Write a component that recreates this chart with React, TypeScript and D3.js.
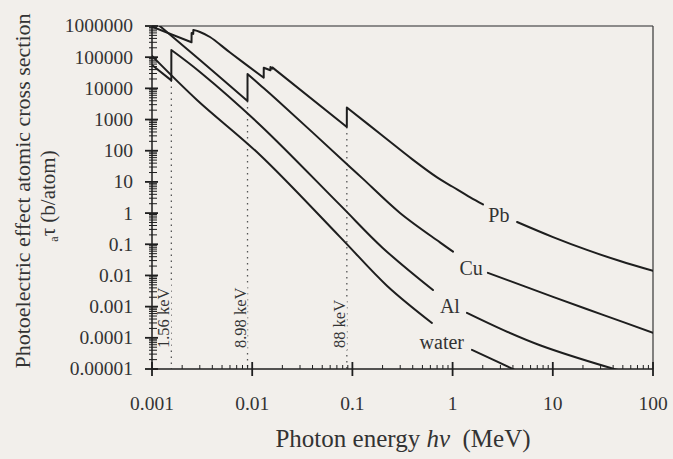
import React from "react";
import * as d3 from "d3";

// ---------- data ----------
const seriesNames = ["Pb", "Cu", "Al", "water"];

const pbEnergy = [0.001, 0.00248, 0.002485, 0.00258, 0.002586, 0.00301, 0.00379, 0.00601, 0.01303, 0.01304, 0.0152, 0.01521, 0.01586, 0.01587, 0.088, 0.08801, 0.2, 0.4, 0.7, 1.0, 1.5, 2.01, 4.39, 10.05, 21.9, 46.9, 100];
const pbSigma = [950000, 300000, 600000, 560000, 750000, 643000, 444000, 141000, 22000, 46000, 38000, 48000, 43000, 47000, 580, 2450, 302, 52, 14, 7.0, 3.2, 1.9, 0.52, 0.17, 0.066, 0.029, 0.014];

const cuEnergy = [0.001, 0.00123, 0.00301, 0.00898, 0.008981, 0.01197, 0.0177, 0.0946, 0.1276, 0.2986, 0.748, 1.01, 2.25, 10.05, 31.7, 100];
const cuSigma = [1.6e6, 930000, 81000, 3950, 28800, 12900, 4250, 30.3, 12.5, 1.01, 0.115, 0.058, 0.0121, 0.00206, 5.46e-4, 1.45e-4];

const alEnergy = [0.001, 0.001559, 0.00156, 0.00301, 0.01197, 0.0751, 0.202, 0.637, 1.39, 3.18, 7.45, 37.2, 50];
const alSigma = [56000, 18000, 170000, 33600, 671, 1.83, 0.075, 0.0034, 6.3e-4, 1.8e-4, 5.8e-5, 1.1e-5, 8.5e-6];

const waterEnergy = [0.001, 0.00281, 0.01197, 0.0751, 0.221, 0.622, 1.56, 3.74, 5.0];
const waterSigma = [110000, 4250, 73, 0.173, 0.0047, 3.0e-4, 4.1e-5, 1.1e-5, 7e-6];

// label anchors and gaps in each curve (energy, MeV / cross section, b)
const labelEnergy = [2.9, 1.53, 0.94, 0.78];
const labelSigma = [0.876, 0.0175, 0.00106, 7.4e-5];
const gapStart = [2.01, 1.01, 0.637, 0.622];
const gapEnd = [4.4, 2.25, 1.39, 1.56];

// absorption edges
const edgeEnergy = [0.00156, 0.00898, 0.088];
const edgeBottom = [18000, 3950, 580];
const edgeLabels = ["1.56 keV", "8.98 keV", "88 keV"];

const xTickValues = [0.001, 0.01, 0.1, 1, 10, 100];
const xTickLabels = ["0.001", "0.01", "0.1", "1", "10", "100"];
const yTickValues = [1e-5, 1e-4, 1e-3, 1e-2, 1e-1, 1, 10, 100, 1000, 1e4, 1e5, 1e6];
const yTickLabels = ["0.00001", "0.0001", "0.001", "0.01", "0.1", "1", "10", "100", "1000", "10000", "100000", "1000000"];

// ---------- layout ----------
const W = 673;
const H = 459;
const L = 152, R = 653, T = 26, B = 369;
const BG = "#f2efeb";
const INK = "#1e1e1e";
const TXT = "#333";
const FONT = "'Liberation Serif', 'Times New Roman', Times, serif";

type P = [number, number];

function splitAtGap(points: P[], g0: number, g1: number): P[][] {
  const interp = (a: P, b: P, e: number): P => {
    const t = (Math.log(e) - Math.log(a[0])) / (Math.log(b[0]) - Math.log(a[0]));
    return [e, Math.exp(Math.log(a[1]) + t * (Math.log(b[1]) - Math.log(a[1])))];
  };
  const before: P[] = [];
  const after: P[] = [];
  for (let i = 0; i < points.length; i++) {
    const p = points[i];
    if (i > 0) {
      const q = points[i - 1];
      if (q[0] < g0 && p[0] > g0) before.push(interp(q, p, g0));
      if (q[0] < g1 && p[0] > g1) after.push(interp(q, p, g1));
    }
    if (p[0] <= g0) before.push(p);
    if (p[0] >= g1) after.push(p);
  }
  return [before, after];
}

// split a curve into smooth pieces at absorption-edge jumps
function splitAtJumps(points: P[]): P[][] {
  const pieces: P[][] = [];
  let cur: P[] = [];
  points.forEach((p, i) => {
    if (i > 0 && p[0] / points[i - 1][0] < 1.01) {
      pieces.push(cur);
      cur = [];
    }
    cur.push(p);
  });
  pieces.push(cur);
  return pieces;
}

export default function App() {
  const x = d3.scaleLog().domain([0.001, 100]).range([L, R]);
  const y = d3.scaleLog().domain([1e-5, 1e6]).range([B, T]);

  const energies = [pbEnergy, cuEnergy, alEnergy, waterEnergy];
  const sigmas = [pbSigma, cuSigma, alSigma, waterSigma];

  const smooth = d3
    .line<P>()
    .x((d) => x(d[0]))
    .y((d) => y(d[1]))
    .curve(d3.curveCatmullRom.alpha(0.5));

  const pathFor = (part: P[]) => {
    const pieces = splitAtJumps(part).filter((pc) => pc.length > 0);
    return pieces
      .map((pc, k) => {
        const d = pc.length === 1 ? `M${x(pc[0][0])},${y(pc[0][1])}` : smooth(pc) || "";
        return k === 0 ? d : "L" + d.slice(1);
      })
      .join("");
  };

  const xMinor: number[] = [];
  const yMinor: number[] = [];
  for (let e = -3; e < 2; e++) for (let k = 2; k <= 9; k++) xMinor.push(k * Math.pow(10, e));
  for (let e = -5; e < 6; e++) for (let k = 2; k <= 9; k++) yMinor.push(k * Math.pow(10, e));

  return (
    <svg width={W} height={H} style={{ position: "absolute", left: 0, top: 0 }} fontFamily={FONT}>
      <rect x={0} y={0} width={W} height={H} fill={BG} />
      <defs>
        <clipPath id="plot">
          <rect x={L} y={T} width={R - L} height={B - T} />
        </clipPath>
      </defs>

      {/* frame */}
      <line x1={L} x2={R} y1={T} y2={T} stroke="#6a6a6a" strokeWidth={1.6} />
      <line x1={R} x2={R} y1={T} y2={B} stroke="#444" strokeWidth={1.3} />

      {/* dotted edge lines */}
      {edgeEnergy.map((e, i) => (
        <line key={"el" + i} x1={x(e)} x2={x(e)} y1={y(edgeBottom[i])} y2={B}
          stroke="#555" strokeWidth={1.3} strokeDasharray="1.5,4.5" />
      ))}
      {edgeLabels.map((t, i) => {
        const len = t.length * 7.9;
        const bx = x(edgeEnergy[i]) - 2;
        const by = B - 21;
        return (
          <g key={"et" + i}>
            <rect x={bx - 13} y={by - len - 2} width={15} height={len + 4} fill={BG} />
            <text transform={`translate(${bx},${by}) rotate(-90)`} fontSize={16.5} fill={TXT} fontFamily={FONT}>{t}</text>
          </g>
        );
      })}

      {/* curves */}
      <g clipPath="url(#plot)">
        {seriesNames.map((name, i) => {
          const pts: P[] = energies[i].map((e, j) => [e, sigmas[i][j]] as P);
          const parts = splitAtGap(pts, gapStart[i], gapEnd[i]);
          return parts.map((part, k) => (
            <path key={name + k} d={pathFor(part)} fill="none" stroke={INK} strokeWidth={2}
              strokeLinejoin="round" strokeLinecap="round" />
          ));
        })}
      </g>

      {/* curve labels */}
      {seriesNames.map((name, i) => (
        <text key={"lab" + name} x={x(labelEnergy[i])} y={y(labelSigma[i])} dy="0.35em"
          textAnchor="middle" fontSize={20} fill={TXT} fontFamily={FONT}>{name}</text>
      ))}

      {/* axes */}
      <line x1={L} x2={L} y1={T} y2={B} stroke={INK} strokeWidth={1.5} />
      <line x1={L} x2={R} y1={B} y2={B} stroke={INK} strokeWidth={1.5} />
      {yMinor.map((v, i) => (
        <line key={"ym" + i} x1={L - 3} x2={L + 5} y1={y(v)} y2={y(v)} stroke={INK} strokeWidth={1} />
      ))}
      {yTickValues.map((v, i) => (
        <line key={"yM" + i} x1={L - 7} x2={L + 6} y1={y(v)} y2={y(v)} stroke={INK} strokeWidth={1.8} />
      ))}
      {xMinor.map((v, i) => (
        <line key={"xm" + i} x1={x(v)} x2={x(v)} y1={B - 4} y2={B} stroke={INK} strokeWidth={1} />
      ))}
      {xTickValues.map((v, i) => (
        <line key={"xM" + i} x1={x(v)} x2={x(v)} y1={B - 7} y2={B + 7} stroke={INK} strokeWidth={1.8} />
      ))}

      {/* tick labels */}
      {yTickValues.map((v, i) => (
        <text key={"yl" + i} x={133} y={y(v)} dy="0.33em" textAnchor="end" fontSize={19.5} fill={TXT} fontFamily={FONT}>
          {yTickLabels[i]}
        </text>
      ))}
      {xTickValues.map((v, i) => (
        <text key={"xl" + i} x={x(v)} y={410} textAnchor="middle" fontSize={19.5} fill={TXT} fontFamily={FONT}>
          {xTickLabels[i]}
        </text>
      ))}

      {/* axis titles */}
      <text x={403} y={447} textAnchor="middle" fontSize={25} fill={TXT} fontFamily={FONT}>
        <tspan>Photon energy </tspan>
        <tspan fontStyle="italic">hν</tspan>
        <tspan>{"\u00a0 (MeV)"}</tspan>
      </text>
      <text transform="translate(30,191) rotate(-90)" textAnchor="middle" fontSize={22} fill={TXT} fontFamily={FONT}>
        Photoelectric effect atomic cross section
      </text>
      <text transform="translate(55,196) rotate(-90)" textAnchor="middle" fontSize={21} fill={TXT} fontFamily={FONT}>
        <tspan fontSize={12} dy={3}>a</tspan>
        <tspan dy={-3}>τ</tspan>
        <tspan>{" (b/atom)"}</tspan>
      </text>
    </svg>
  );
}
